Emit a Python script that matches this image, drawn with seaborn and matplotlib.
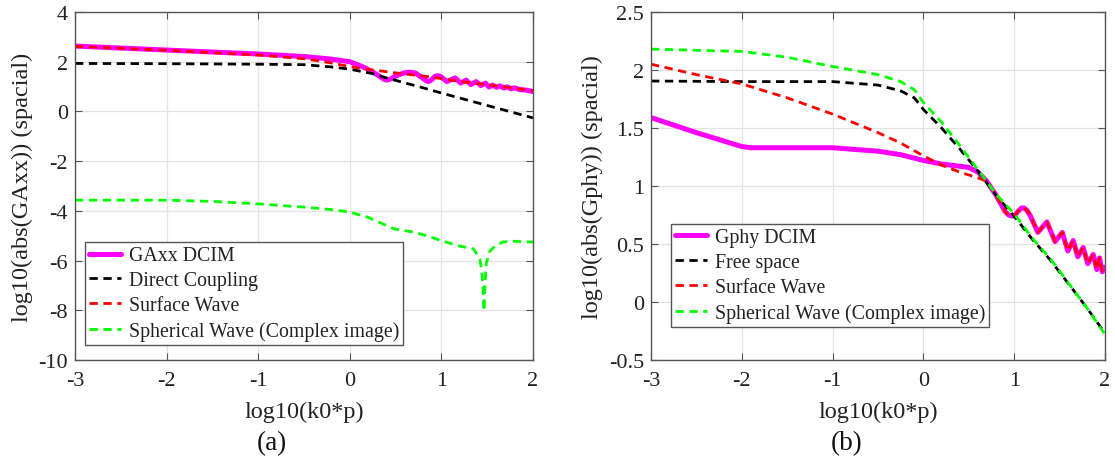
import matplotlib
matplotlib.use("Agg")
import matplotlib.pyplot as plt
import seaborn as sns
import pandas as pd

# ---- panel (a): GAxx ----
a_dcim_x = [-3, -2.5, -2, -1.5, -1, -0.5, -0.216, 0, 0.145, 0.25, 0.33, 0.37, 0.405, 0.44, 0.51, 0.6,
            0.66, 0.72, 0.82, 0.855, 0.89, 0.93, 0.96, 0.99, 1.06, 1.15, 1.21, 1.27, 1.32, 1.38, 1.43,
            1.48, 1.52, 1.56, 1.6, 1.64, 1.68, 1.72, 1.76, 1.8, 1.85, 1.9, 1.95, 2.0]
a_dcim_y = [2.63, 2.55, 2.47, 2.39, 2.31, 2.21, 2.11, 2.0, 1.79, 1.59, 1.4, 1.3, 1.26, 1.3, 1.44, 1.56,
            1.58, 1.54, 1.27, 1.2, 1.26, 1.41, 1.44, 1.41, 1.2, 1.35, 1.14, 1.26, 1.08, 1.2, 1.04,
            1.14, 0.98, 1.06, 0.97, 1.03, 0.94, 0.99, 0.91, 0.95, 0.88, 0.87, 0.84, 0.80]

a_direct_x = [-3, -2, -1, -0.5, -0.2, 0, 0.25, 0.4, 0.6, 0.8, 1.0, 1.2, 1.4, 1.6, 1.8, 2.0]
a_direct_y = [1.93, 1.92, 1.9, 1.88, 1.79, 1.7, 1.52, 1.35, 1.15, 0.95, 0.74, 0.54, 0.34, 0.14, -0.06, -0.26]

a_surface_x = [-3, -2, -1, -0.5, -0.2, 0, 0.25, 0.5, 0.875, 1.25, 1.6, 2.0]
a_surface_y = [2.62, 2.46, 2.27, 2.12, 1.95, 1.8, 1.67, 1.55, 1.39, 1.18, 1.03, 0.83]

a_spherical_x = [-3, -2, -1.5, -1, -0.5, -0.2, 0, 0.2, 0.4, 0.49, 0.69, 0.84, 1.0, 1.18, 1.35, 1.42,
                 1.44, 1.455, 1.465, 1.475, 1.49, 1.53, 1.59, 1.67, 1.8, 1.93, 2.0]
a_spherical_y = [-3.57, -3.57, -3.62, -3.72, -3.85, -3.95, -4.05, -4.26, -4.59, -4.73, -4.85, -5.0, -5.2,
                 -5.4, -5.53, -5.94, -6.4, -7.2, -8.03, -7.0, -6.1, -5.61, -5.41, -5.25, -5.22, -5.25, -5.25]

# ---- panel (b): Gphy ----
b_dcim_x = [-3, -2.5, -2, -1.9, -1.5, -1, -0.5, -0.25, 0, 0.2, 0.4, 0.5, 0.6, 0.7, 0.8, 0.9, 0.94,
            0.976, 1.01, 1.04, 1.08, 1.11, 1.14, 1.18, 1.26, 1.36, 1.45, 1.53, 1.59, 1.65, 1.70, 1.76,
            1.81, 1.87, 1.91, 1.94, 1.97, 2.0]
b_dcim_y = [1.59, 1.46, 1.34, 1.33, 1.33, 1.33, 1.30, 1.27, 1.22, 1.19, 1.17, 1.16, 1.12, 1.04, 0.92,
            0.78, 0.75, 0.74, 0.75, 0.78, 0.81, 0.81, 0.79, 0.74, 0.60, 0.69, 0.52, 0.60, 0.44, 0.53,
            0.39, 0.47, 0.33, 0.41, 0.28, 0.38, 0.26, 0.30]

b_free_x = [-3, -2, -1, -0.5, -0.25, -0.1, 0, 0.2, 0.4, 0.6, 0.8, 1.0, 1.2, 1.4, 1.6, 1.8, 2.0]
b_free_y = [1.905, 1.90, 1.90, 1.87, 1.82, 1.76, 1.66, 1.50, 1.32, 1.13, 0.92, 0.74, 0.54, 0.36, 0.155,
            -0.05, -0.27]

b_surface_x = [-3, -2.5, -2, -1.5, -1, -0.5, -0.25, 0, 0.2, 0.4, 0.6, 0.7, 0.8, 0.9, 0.94, 0.976,
               1.01, 1.04, 1.08, 1.11, 1.14, 1.18, 1.26, 1.36, 1.45, 1.53, 1.59, 1.65, 1.70, 1.76,
               1.81, 1.87, 1.91, 1.94, 1.97, 2.0]
b_surface_y = [2.05, 1.96, 1.88, 1.76, 1.62, 1.46, 1.37, 1.26, 1.18, 1.12, 1.07, 1.04, 0.92, 0.78, 0.75,
               0.74, 0.75, 0.78, 0.81, 0.81, 0.79, 0.74, 0.60, 0.69, 0.52, 0.60, 0.44, 0.53, 0.39,
               0.47, 0.33, 0.41, 0.28, 0.38, 0.26, 0.30]

b_spherical_x = [-3, -2.5, -2, -1.5, -1, -0.5, -0.25, -0.1, 0, 0.2, 0.4, 0.6, 0.8, 1.0, 1.2, 1.4, 1.6,
                 1.8, 2.0]
b_spherical_y = [2.18, 2.17, 2.16, 2.11, 2.03, 1.96, 1.90, 1.83, 1.72, 1.55, 1.35, 1.14, 0.93, 0.76,
                 0.55, 0.37, 0.16, -0.05, -0.28]

x_ticks = [-3, -2, -1, 0, 1, 2]
a_y_ticks = [-10, -8, -6, -4, -2, 0, 2, 4]
b_y_ticks = [-0.5, 0, 0.5, 1, 1.5, 2, 2.5]

sns.set_theme(style="white")
plt.rcParams["font.family"] = ["Liberation Serif", "DejaVu Serif"]
plt.rcParams["axes.unicode_minus"] = False

fig = plt.figure(figsize=(11.15, 4.6), dpi=100)
W, H = 1115, 460
ax_a = fig.add_axes([75 / W, (H - 361) / H, 458 / W, 348 / H])
ax_b = fig.add_axes([651 / W, (H - 361) / H, 454 / W, 348 / H])

dash = (0, (3, 2))


def draw(ax, series):
    for xs, ys, color, lw, ls, label in series:
        df = pd.DataFrame({"x": xs, "y": ys})
        sns.lineplot(data=df, x="x", y="y", ax=ax, color=color, linewidth=lw,
                     linestyle=ls, label=label, sort=False, estimator=None)


draw(ax_a, [
    (a_dcim_x, a_dcim_y, "#ff00ff", 3.6, "-", "GAxx DCIM"),
    (a_direct_x, a_direct_y, "black", 2.0, dash, "Direct Coupling"),
    (a_surface_x, a_surface_y, "#ff0000", 2.0, dash, "Surface Wave"),
    (a_spherical_x, a_spherical_y, "#00ff00", 2.0, dash, "Spherical Wave (Complex image)"),
])
draw(ax_b, [
    (b_dcim_x, b_dcim_y, "#ff00ff", 3.6, "-", "Gphy DCIM"),
    (b_free_x, b_free_y, "black", 2.0, dash, "Free space"),
    (b_surface_x, b_surface_y, "#ff0000", 2.0, dash, "Surface Wave"),
    (b_spherical_x, b_spherical_y, "#00ff00", 2.0, dash, "Spherical Wave (Complex image)"),
])

for ax, yt, ylab, leg_pos in [
    (ax_a, a_y_ticks, "log10(abs(GAxx)) (spacial)", (0.022, 0.043)),
    (ax_b, b_y_ticks, "log10(abs(Gphy)) (spacial)", (0.044, 0.095)),
]:
    ax.set_xlim(-3, 2)
    ax.set_ylim(yt[0], yt[-1])
    ax.set_xticks(x_ticks)
    ax.set_yticks(yt)
    ax.set_yticklabels([f"{v:g}" for v in yt])
    ax.grid(True, color="#e3e3e3", linewidth=0.9)
    ax.set_axisbelow(True)
    for sp in ax.spines.values():
        sp.set_visible(True)
        sp.set_color("#555555")
        sp.set_linewidth(1.0)
    ax.tick_params(direction="in", length=5, width=0.8, color="#555555",
                   labelsize=16, labelcolor="#222222", top=True, right=True,
                   left=True, bottom=True)
    ax.tick_params(axis="x", pad=8)
    ax.tick_params(axis="y", pad=5)
    ax.set_xlabel("log10(k0*p)", fontsize=17.5, color="#222222", labelpad=8)
    ax.set_ylabel(ylab, fontsize=17.5, color="#222222", labelpad=4)
    leg = ax.legend(loc="lower left", bbox_to_anchor=leg_pos, borderaxespad=0,
                    fontsize=14.3, frameon=True, fancybox=False, framealpha=1,
                    edgecolor="#555555", handlelength=1.6, handletextpad=0.4,
                    labelspacing=0.3, borderpad=0.2)
    leg.get_frame().set_linewidth(1.0)
    for t in leg.get_texts():
        t.set_color("#222222")

fig.text(272 / W, (H - 444) / H, "(a)", fontsize=19.5, ha="center", va="center", color="#111111")
fig.text(847 / W, (H - 444) / H, "(b)", fontsize=19.5, ha="center", va="center", color="#111111")

fig.savefig("out.png", dpi=100)
